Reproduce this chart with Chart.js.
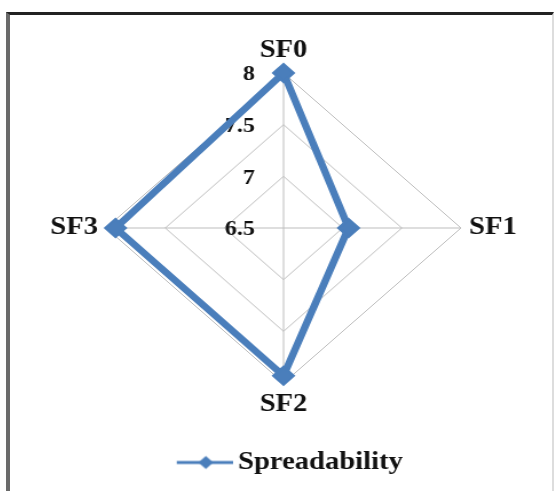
<!DOCTYPE html>
<html><head><meta charset="utf-8">
<script src="https://cdn.jsdelivr.net/npm/chart.js@4"></script>
<style>
html,body{margin:0;padding:0;background:#fff;overflow:hidden;width:555px;height:491px;}
#frame{position:absolute;left:6px;top:12px;width:542px;height:600px;border-top:3px solid #222;border-left:4px solid #6a6a6a;border-right:2px solid #ddd;}
#wrap{position:absolute;left:10.5px;top:36px;width:476px;height:449px;transform:scaleX(1.145);transform-origin:0 0;}
</style></head><body>
<div id="frame"></div>
<div id="wrap"><canvas id="c"></canvas></div>
<script>
const categories = ['SF0', 'SF1', 'SF2', 'SF3'];
const seriesName = 'Spreadability';
const spreadability = [8, 7.05, 7.93, 7.92];
const scaleMin = 6.5;
const scaleMax = 8;
const scaleStep = 0.5;

const BLUE = '#4a7ebb';
const FONT = "'Liberation Serif', 'Times New Roman', serif";

function legendMarker() {
  const c = document.createElement('canvas');
  c.width = 68; c.height = 16;
  const g = c.getContext('2d');
  g.strokeStyle = BLUE; g.lineWidth = 3;
  g.beginPath(); g.moveTo(19, 8); g.lineTo(68, 8); g.stroke();
  g.fillStyle = BLUE;
  g.beginPath(); g.moveTo(37.9, 8); g.lineTo(44.4, 1.5); g.lineTo(50.9, 8); g.lineTo(44.4, 14.5); g.closePath(); g.fill();
  return c;
}

const sideTicks = {
  id: 'sideTicks',
  beforeDatasetsDraw(chart) {
    const s = chart.scales.r;
    const ctx = chart.ctx;
    ctx.save();
    ctx.font = "bold 21px " + FONT;
    ctx.fillStyle = '#111';
    ctx.textAlign = 'right';
    ctx.textBaseline = 'middle';
    s.ticks.forEach(t => {
      const d = s.getDistanceFromCenterForValue(t.value);
      ctx.fillText(t.label, s.xCenter - 25, s.yCenter - d + 2);
    });
    ctx.restore();
  }
};

new Chart(document.getElementById('c'), {
  type: 'radar',
  data: {
    labels: categories,
    datasets: [{
      label: seriesName,
      data: spreadability,
      borderColor: BLUE,
      backgroundColor: 'rgba(0,0,0,0)',
      borderWidth: 6.5,
      fill: false,
      tension: 0,
      pointStyle: 'rectRot',
      pointRadius: 9,
      pointBackgroundColor: BLUE,
      pointBorderColor: BLUE,
      pointBorderWidth: 2
    }]
  },
  options: {
    responsive: true,
    maintainAspectRatio: false,
    animation: false,
    layout: { padding: 0 },
    plugins: {
      legend: {
        position: 'bottom',
        labels: {
          usePointStyle: true,
          pointStyle: legendMarker(),
          pointStyleWidth: 52,
          padding: 30,
          color: '#111',
          font: { family: FONT, weight: 'bold', size: 25 }
        }
      },
      tooltip: { enabled: false }
    },
    scales: {
      r: {
        min: scaleMin,
        max: scaleMax,
        ticks: { stepSize: scaleStep, display: false, callback: v => String(Number(v)) },
        grid: { color: '#bdbdbd', lineWidth: 1, circular: false },
        angleLines: { color: '#bdbdbd', lineWidth: 1 },
        pointLabels: { padding: 7, color: '#111', font: { family: FONT, weight: 'bold', size: 25 } }
      }
    }
  },
  plugins: [sideTicks]
});
</script>
</body></html>
